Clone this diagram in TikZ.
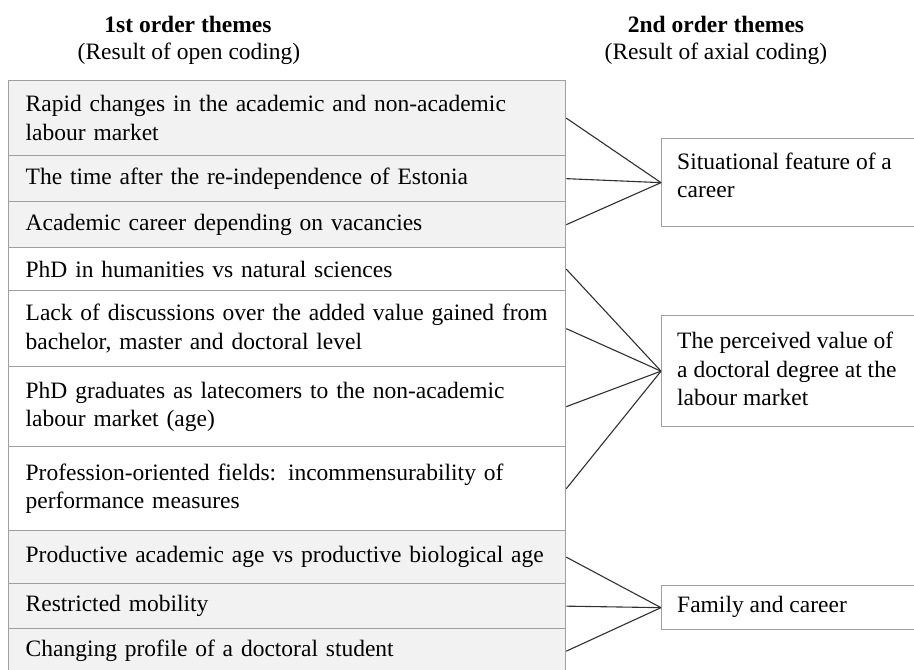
\documentclass[tikz,border=0pt]{standalone}
\usepackage{fontspec}
\setmainfont{Liberation Serif}
\newcommand\bodyfs{\fontsize{23.5}{28.5}\selectfont}
\definecolor{boxgray}{HTML}{A0A0A0}
\definecolor{shade}{HTML}{F2F2F2}
\definecolor{linegray}{HTML}{303030}
\begin{document}
\begin{tikzpicture}[x=1pt,y=-1pt,
  rowbox/.style={draw=boxgray, line width=1.3pt, anchor=north west, minimum width=557pt,
    text width=523pt, inner xsep=17pt, inner ysep=0pt, align=left, font=\bodyfs},
  shaded/.style={rowbox, fill=shade},
  plain/.style={rowbox, fill=white},
  rbox/.style={draw=boxgray, line width=1.3pt, fill=white, anchor=north west, minimum width=330pt, inner sep=0pt},
  rtext/.style={anchor=west, inner sep=0pt, align=left, font=\bodyfs},
  head/.style={font=\bfseries\bodyfs, inner sep=0pt},
  sub/.style={font=\bodyfs, inner sep=0pt},
  conn/.style={draw=linegray, line width=1.1pt}]
\useasboundingbox (0,0) rectangle (914,670);
\clip (0,0) rectangle (914,670);
\fill[white] (0,0) rectangle (914,670);

% headers
\node[head] (h1) at (188,24) {1st order themes};
\node[sub] (h1s) at (189,54) {(Result of open coding)};
\node[head] (h2) at (716,24) {2nd order themes};
\node[sub] (h2s) at (716,54) {(Result of axial coding)};

% first-order rows
\node[shaded, minimum height=75pt] (r1) at (8,80) {Rapid changes in the academic and non-academic\\labour market};
\node[shaded, minimum height=46pt] (r2) at (8,155) {The time after the re-independence of Estonia};
\node[shaded, minimum height=46pt] (r3) at (8,201) {Academic career depending on vacancies};
\node[plain, minimum height=43pt] (r4) at (8,247) {PhD in humanities vs natural sciences};
\node[plain, minimum height=76pt] (r5) at (8,290) {Lack of discussions over the added value gained from\\bachelor, master and doctoral level};
\node[plain, minimum height=80pt] (r6) at (8,366) {PhD graduates as latecomers to the non-academic\\labour market (age)};
\node[plain, minimum height=84pt] (r7) at (8,446) {Profession-oriented fields: incommensurability of\\performance measures};
\node[shaded, minimum height=53pt] (r8) at (8,530) {Productive academic age vs productive biological age};
\node[shaded, minimum height=45pt] (r9) at (8,583) {Restricted mobility};
\node[shaded, minimum height=45pt] (r10) at (8,628) {Changing profile of a doctoral student};

% second-order boxes
\node[rbox, minimum height=88pt] (s1) at (661,138) {};
\node[rtext] (s1t) at (677,175.5) {Situational feature of a\\career};
\node[rbox, minimum height=111pt] (s2) at (661,315) {};
\node[rtext] (s2t) at (677,369) {The perceived value of\\a doctoral degree at the\\labour market};
\node[rbox, minimum height=44pt] (s3) at (661,585) {};
\node[rtext] (s3t) at (677,607) {Family and career};

% connectors
\draw[conn] (r1.east) -- (s1.west);
\draw[conn] (r2.east) -- (s1.west);
\draw[conn] (r3.east) -- (s1.west);
\draw[conn] (r4.east) -- (s2.west);
\draw[conn] (r5.east) -- (s2.west);
\draw[conn] (r6.east) -- (s2.west);
\draw[conn] (r7.east) -- (s2.west);
\draw[conn] (r8.east) -- (s3.west);
\draw[conn] (r9.east) -- (s3.west);
\draw[conn] (r10.east) -- (s3.west);
\end{tikzpicture}
\end{document}
